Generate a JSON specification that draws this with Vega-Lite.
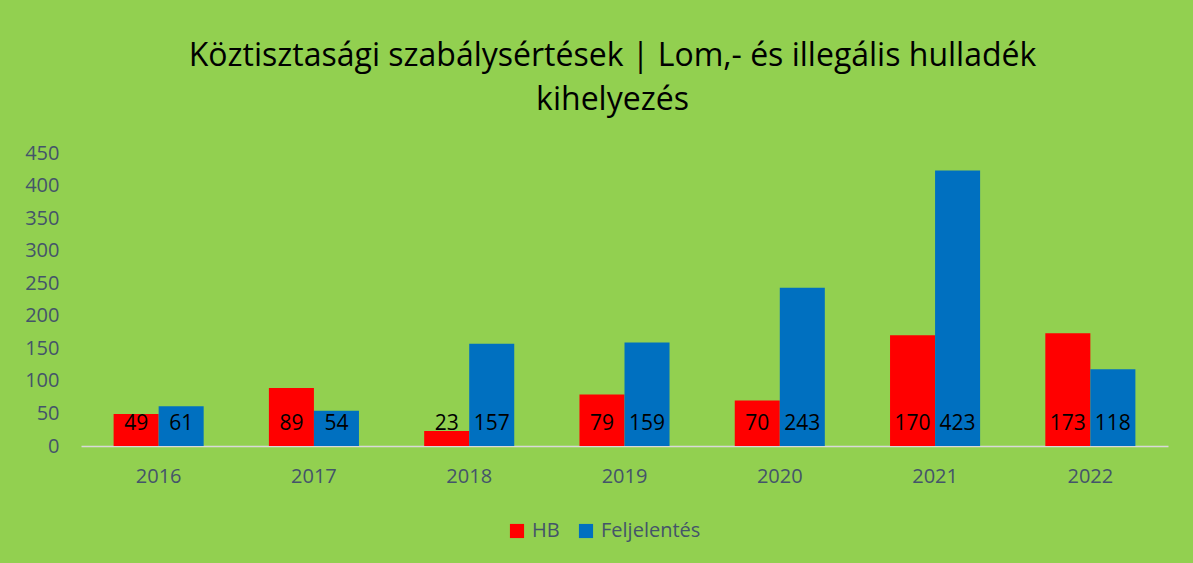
{
  "$schema": "https://vega.github.io/schema/vega-lite/v6.json",
  "width": 1087,
  "height": 293,
  "autosize": {"type": "none"},
  "padding": {"left": 81, "top": 153, "right": 25, "bottom": 117},
  "background": "#92D050",
  "config": {
    "view": {"stroke": null},
    "font": "Open Sans",
    "axisY": {"labelOverlap": false}
  },
  "title": {
    "text": ["Köztisztasági szabálysértések | Lom,- és illegális hulladék", "kihelyezés"],
    "font": "Open Sans",
    "fontSize": 32,
    "fontWeight": "normal",
    "color": "#000000",
    "lineHeight": 44,
    "anchor": "middle",
    "dx": -12,
    "offset": 26
  },
  "data": {
    "values": [
      {"year": "2016", "series": "HB", "value": 49},
      {"year": "2016", "series": "Feljelentés", "value": 61},
      {"year": "2017", "series": "HB", "value": 89},
      {"year": "2017", "series": "Feljelentés", "value": 54},
      {"year": "2018", "series": "HB", "value": 23},
      {"year": "2018", "series": "Feljelentés", "value": 157},
      {"year": "2019", "series": "HB", "value": 79},
      {"year": "2019", "series": "Feljelentés", "value": 159},
      {"year": "2020", "series": "HB", "value": 70},
      {"year": "2020", "series": "Feljelentés", "value": 243},
      {"year": "2021", "series": "HB", "value": 170},
      {"year": "2021", "series": "Feljelentés", "value": 423},
      {"year": "2022", "series": "HB", "value": 173},
      {"year": "2022", "series": "Feljelentés", "value": 118}
    ]
  },
  "encoding": {
    "x": {
      "field": "year",
      "type": "nominal",
      "scale": {"paddingInner": 0.42, "paddingOuter": 0.21},
      "axis": {
        "title": null,
        "labelAngle": 0,
        "labelFont": "Open Sans",
        "labelFontSize": 20,
        "labelColor": "#44546A",
        "labelPadding": 20,
        "domainColor": "#D9D9D9",
        "domainWidth": 1.5,
        "ticks": false
      }
    },
    "xOffset": {"field": "series", "type": "nominal", "sort": ["HB", "Feljelentés"], "scale": {"paddingInner": 0, "paddingOuter": 0}}
  },
  "layer": [
    {
      "mark": {"type": "bar"},
      "encoding": {
        "y": {
          "field": "value",
          "type": "quantitative",
          "scale": {"domain": [0, 450]},
          "axis": {
            "title": null,
            "values": [0, 50, 100, 150, 200, 250, 300, 350, 400, 450],
            "labelOverlap": false,
            "grid": false,
            "domain": false,
            "ticks": false,
            "labelFont": "Open Sans",
            "labelFontSize": 20,
            "labelColor": "#44546A",
            "labelPadding": 22
          }
        },
        "color": {
          "field": "series",
          "type": "nominal",
          "scale": {"domain": ["HB", "Feljelentés"], "range": ["#FF0000", "#0070C0"]},
          "legend": {
            "title": null,
            "orient": "none",
            "direction": "horizontal",
            "legendX": 426,
            "legendY": 368,
            "symbolType": "square",
            "symbolSize": 200,
            "symbolStrokeWidth": 0,
            "labelFont": "Open Sans",
            "labelFontSize": 20,
            "labelColor": "#44546A",
            "columnPadding": 16,
            "labelOffset": 5
          }
        }
      }
    },
    {
      "mark": {"type": "text", "fontSize": 21, "font": "Open Sans", "color": "#000000", "baseline": "alphabetic", "dy": -16},
      "encoding": {
        "y": {
          "datum": 0,
          "type": "quantitative",
          "scale": {"domain": [0, 450]},
          "axis": {
            "title": null,
            "values": [0, 50, 100, 150, 200, 250, 300, 350, 400, 450],
            "labelOverlap": false,
            "grid": false,
            "domain": false,
            "ticks": false,
            "labelFont": "Open Sans",
            "labelFontSize": 20,
            "labelColor": "#44546A",
            "labelPadding": 22
          }
        },
        "text": {"field": "value", "type": "quantitative"}
      }
    }
  ]
}
